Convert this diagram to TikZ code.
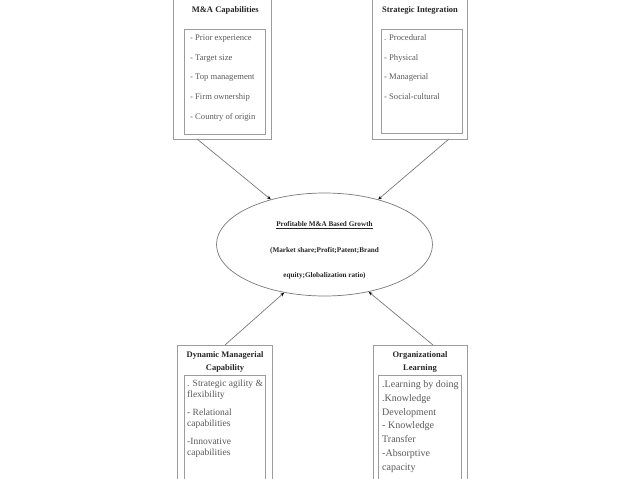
\documentclass[tikz,border=0pt]{standalone}
\usepackage{fontspec}
\setmainfont{Liberation Serif}
\usetikzlibrary{arrows.meta,shapes.geometric,calc}
\definecolor{boxgray}{HTML}{9C9C9C}
\definecolor{txtgray}{HTML}{5A5A5A}
\definecolor{ttlgray}{HTML}{262626}
\definecolor{arrgray}{HTML}{7A7A7A}
\begin{document}
\begin{tikzpicture}[x=1pt,y=-1pt,
  framebox/.style={draw=boxgray,line width=0.8pt,rectangle,inner sep=0pt,outer sep=0pt},
  ttl/.style={font=\fontsize{8.5}{10}\selectfont\bfseries,text=ttlgray,inner sep=0pt,anchor=base},
  itma/.style={font=\fontsize{8.6}{10}\selectfont,text=txtgray,inner sep=0pt,anchor=base west},
  itmb/.style={font=\fontsize{9.5}{11}\selectfont,text=txtgray,inner sep=0pt,anchor=base west},
  itmc/.style={font=\fontsize{10}{12}\selectfont,text=txtgray,inner sep=0pt,anchor=base west},
  etxt/.style={font=\fontsize{7.2}{9}\selectfont\bfseries,text=ttlgray,inner sep=0pt,anchor=base},
  arr/.style={draw=arrgray,line width=0.7pt,-{Stealth[length=4pt,width=3.2pt,black]}}]
\useasboundingbox (0,0) rectangle (638,479);
\fill[white] (0,0) rectangle (638,479);
% top-left box
\node[framebox,minimum width=98pt,minimum height=144pt] (tlo) at (222,67) {};
\node[framebox,minimum width=81pt,minimum height=105pt] (tli) at (224.5,81.5) {};
\node[ttl] (tlt) at (225.3,12.3) {M\&A Capabilities};
\node[itma] (tl1) at (190,40.5) {- Prior experience};
\node[itma] (tl2) at (190,60.2) {- Target size};
\node[itma] (tl3) at (190,79.9) {- Top management};
\node[itma] (tl4) at (190,99.6) {- Firm ownership};
\node[itma] (tl5) at (190,119.3) {- Country of origin};
% top-right box
\node[framebox,minimum width=95pt,minimum height=144pt] (tro) at (419.5,67) {};
\node[framebox,minimum width=81pt,minimum height=104pt] (tri) at (421.5,81) {};
\node[ttl] (trt) at (420,12.3) {Strategic Integration};
\node[itma] (tr1) at (384,40.5) {. Procedural};
\node[itma] (tr2) at (384,60.2) {- Physical};
\node[itma] (tr3) at (384,79.9) {- Managerial};
\node[itma] (tr4) at (384,99.6) {- Social-cultural};
% bottom-left box
\node[framebox,minimum width=95pt,minimum height=140pt] (blo) at (224.5,415) {};
\node[framebox,minimum width=81pt,minimum height=110pt] (bli) at (224.5,430) {};
\node[ttl] (blt1) at (225,357.5) {Dynamic Managerial};
\node[ttl] (blt2) at (225,370.5) {Capability};
\node[itmb] (bl1) at (187,386.3) {. Strategic agility \&};
\node[itmb] (bl2) at (187,397.8) {flexibility};
\node[itmb] (bl3) at (187,415.3) {- Relational};
\node[itmb] (bl4) at (187,426.8) {capabilities};
\node[itmb] (bl5) at (187,444.3) {-Innovative};
\node[itmb] (bl6) at (187,455.8) {capabilities};
% bottom-right box
\node[framebox,minimum width=94pt,minimum height=140pt] (bro) at (420,415) {};
\node[framebox,minimum width=83pt,minimum height=110pt] (bri) at (419.5,430) {};
\node[ttl] (brt1) at (420,357.5) {Organizational};
\node[ttl] (brt2) at (420,370.5) {Learning};
\node[itmc] (br1) at (382,387.5) {.Learning by doing};
\node[itmc] (br2) at (382,401.3) {.Knowledge};
\node[itmc] (br3) at (382,415.1) {Development};
\node[itmc] (br4) at (382,428.9) {- Knowledge};
\node[itmc] (br5) at (382,442.7) {Transfer};
\node[itmc] (br6) at (382,456.5) {-Absorptive};
\node[itmc] (br7) at (382,470.3) {capacity};
% ellipse
\node[draw=arrgray,line width=0.7pt,ellipse,minimum width=216pt,minimum height=103pt,inner sep=0pt] (ell) at (324.5,244.5) {};
\node[etxt] (et1) at (324.5,226.5) {\underline{Profitable M\&A Based Growth}};
\node[etxt] (et2) at (324.5,252) {(Market share;Profit;Patent;Brand};
\node[etxt] (et3) at (324.5,277.5) {equity;Globalization ratio)};
% arrows
\draw[arr] ($(tlo.south west)+(24,0)$) -- (ell.140);
\draw[arr] ($(tro.south east)+(-18,0)$) -- (ell.40);
\draw[arr] ($(blo.north west)+(48,0)$) -- (ell.230);
\draw[arr] ($(bro.north east)+(-34,0)$) -- (ell.313);
\end{tikzpicture}
\end{document}
